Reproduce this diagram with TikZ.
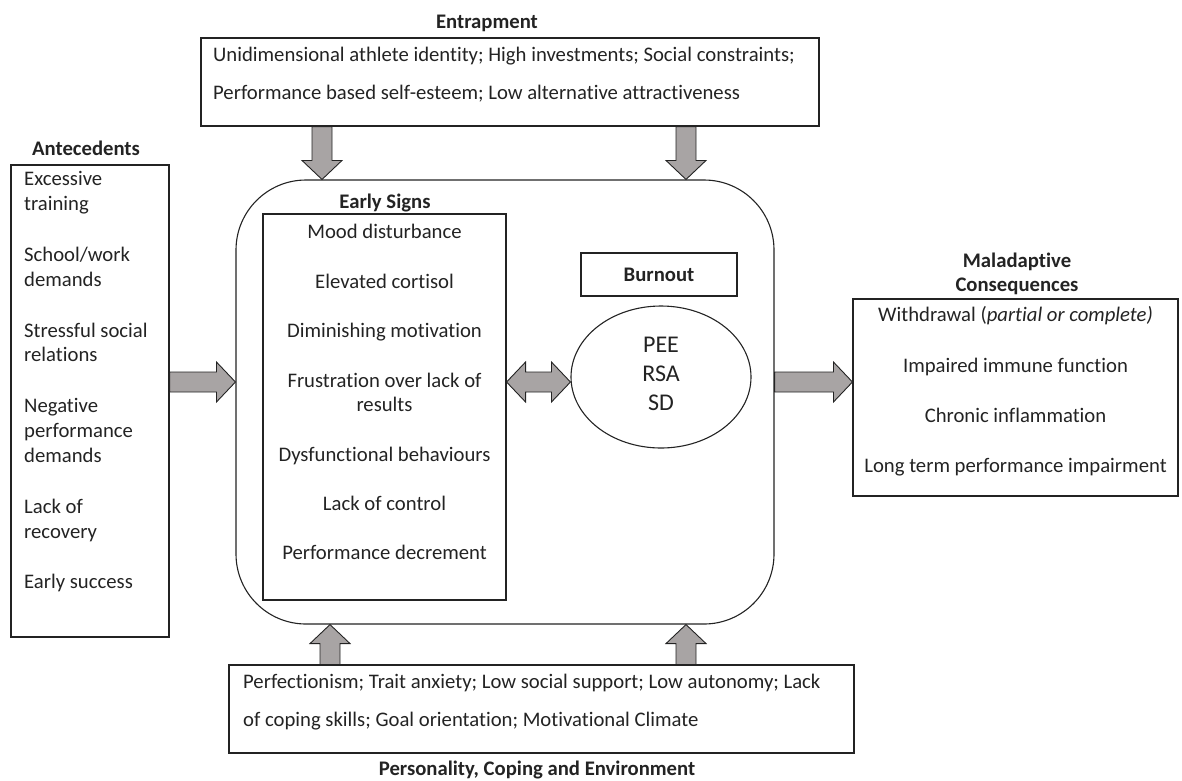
\documentclass[tikz,border=0pt]{standalone}
\usepackage{fontspec}
\setmainfont{Carlito}[Ligatures=NoCommon]
\usetikzlibrary{calc,shapes.geometric}

\definecolor{ink}{RGB}{35,35,35}
\definecolor{arrowgrey}{RGB}{168,164,164}

% Block arrow from #1 to the tip #2 (both named coordinates)
\newcommand\blockarrow[2]{%
  \coordinate (ba-h) at ($(#2)!19pt!(#1)$);
  \draw[blockarrow]
    ($(#1)!10pt!90:(#2)$) -- ($(ba-h)!10pt!90:(#2)$) -- ($(ba-h)!20pt!90:(#2)$)
    -- (#2) -- ($(ba-h)!20pt!-90:(#2)$) -- ($(ba-h)!10pt!-90:(#2)$)
    -- ($(#1)!10pt!-90:(#2)$) -- cycle;}

% Block arrow with a head at both ends
\newcommand\doubleblockarrow[2]{%
  \coordinate (da-h1) at ($(#1)!19pt!(#2)$);
  \coordinate (da-h2) at ($(#2)!19pt!(#1)$);
  \draw[blockarrow]
    (#1) -- ($(da-h1)!20pt!90:(#2)$) -- ($(da-h1)!10pt!90:(#2)$)
    -- ($(da-h2)!10pt!90:(#2)$) -- ($(da-h2)!20pt!90:(#2)$) -- (#2)
    -- ($(da-h2)!20pt!-90:(#2)$) -- ($(da-h2)!10pt!-90:(#2)$)
    -- ($(da-h1)!10pt!-90:(#2)$) -- ($(da-h1)!20pt!-90:(#2)$) -- cycle;}

\begin{document}
\begin{tikzpicture}[x=1pt,y=-1pt,
  every node/.style={font=\fontsize{20.7}{25}\selectfont, text=ink, inner sep=0pt},
  box/.style={draw=ink, line width=1.1pt, rectangle},
  title/.style={font=\fontsize{20.7}{25}\selectfont\bfseries},
  item/.style={anchor=mid west},
  citem/.style={anchor=mid},
  blockarrow/.style={draw=ink, line width=0.9pt, fill=arrowgrey, line join=miter}]

\useasboundingbox (0,0) rectangle (1182,780);

% ---------- frames ----------
\node[box, minimum width=618pt, minimum height=88pt] (entrap) at (510,82) {};
\node[box, minimum width=158pt, minimum height=472pt] (ante) at (90,401) {};
\node[box, rounded corners=70pt, minimum width=538pt, minimum height=444pt] (frame) at (505,402) {};
\node[box, minimum width=243pt, minimum height=386pt] (signs) at (384.5,407) {};
\node[box, minimum width=156pt, minimum height=43pt] (burn) at (659,274.5) {};
\node[draw=ink, line width=1.1pt, ellipse, minimum width=180pt, minimum height=142pt] (dims) at (661,377) {};
\node[box, minimum width=325pt, minimum height=197pt] (conseq) at (1015.5,397.5) {};
\node[box, minimum width=625pt, minimum height=88pt] (person) at (541.5,709) {};

% ---------- titles ----------
\node[title] (t-entrap) at (487,23) {Entrapment};
\node[title] (t-ante) at (86,148) {Antecedents};
\node[title] (t-signs) at (385,203) {Early Signs};
\node[title] (t-burn) at (659,274.5) {Burnout};
\node[title] (t-mal1) at (1017,262) {Maladaptive};
\node[title] (t-mal2) at (1017,286) {Consequences};
\node[title] (t-person) at (537,770) {Personality, Coping and Environment};

% ---------- entrapment ----------
\node[item] (e1) at (213,59) {Unidimensional athlete identity; High investments; Social constraints;};
\node[item] (e2) at (213,97) {Performance based self-esteem; Low alternative attractiveness};

% ---------- antecedents ----------
\foreach \y/\txt [count=\i] in {183/Excessive, 208/training, 259/School\slash work, 284/demands,
    335/Stressful social, 359/relations, 410/Negative, 435/performance, 460/demands,
    511/Lack of, 536/recovery, 586/Early success}
  \node[item] (a\i) at (24,\y) {\txt};

% ---------- early signs ----------
\foreach \y/\txt [count=\i] in {236/Mood disturbance, 286/Elevated cortisol, 335/Diminishing motivation,
    385/Frustration over lack of, 409/results, 459/Dysfunctional behaviours,
    508/Lack of control, 557/Performance decrement}
  \node[citem] (s\i) at (384.5,\y) {\txt};

% ---------- burnout dimensions ----------
\node[citem, font=\fontsize{24}{29}\selectfont] (d1) at (661,350) {PEE};
\node[citem, font=\fontsize{24}{29}\selectfont] (d2) at (661,379) {RSA};
\node[citem, font=\fontsize{24}{29}\selectfont] (d3) at (661,408) {SD};

% ---------- consequences ----------
\node[citem] (c1) at (1015.5,319) {Withdrawal (\textit{partial or complete)}};
\node[citem] (c2) at (1015.5,370) {Impaired immune function};
\node[citem] (c3) at (1015.5,420) {Chronic inflammation};
\node[citem] (c4) at (1015.5,470) {Long term performance impairment};

% ---------- personality, coping, environment ----------
\node[item] (p1) at (243,686) {Perfectionism; Trait anxiety; Low social support; Low autonomy; Lack};
\node[item] (p2) at (243,724) {of coping skills; Goal orientation; Motivational Climate};

% ---------- block arrows ----------
\coordinate (row) at (0,382);
\coordinate (colA) at (322,0);
\coordinate (colB) at (686,0);
\coordinate (colC) at (330,0);

\coordinate (ea1) at (entrap.south -| colA);
\coordinate (ea2) at (frame.north -| colA);
\coordinate (eb1) at (entrap.south -| colB);
\coordinate (eb2) at (frame.north -| colB);
\blockarrow{ea1}{ea2}
\blockarrow{eb1}{eb2}

\coordinate (pa1) at (person.north -| colC);
\coordinate (pa2) at (frame.south -| colC);
\coordinate (pb1) at (person.north -| colB);
\coordinate (pb2) at (frame.south -| colB);
\blockarrow{pa1}{pa2}
\blockarrow{pb1}{pb2}

\coordinate (aa1) at (ante.east |- row);
\coordinate (aa2) at (frame.west |- row);
\blockarrow{aa1}{aa2}

\coordinate (ca1) at (frame.east |- row);
\coordinate (ca2) at (conseq.west |- row);
\blockarrow{ca1}{ca2}

\coordinate (sd1) at (signs.east |- row);
\coordinate (sd2) at (dims.west |- row);
\doubleblockarrow{sd1}{sd2}

\end{tikzpicture}
\end{document}
